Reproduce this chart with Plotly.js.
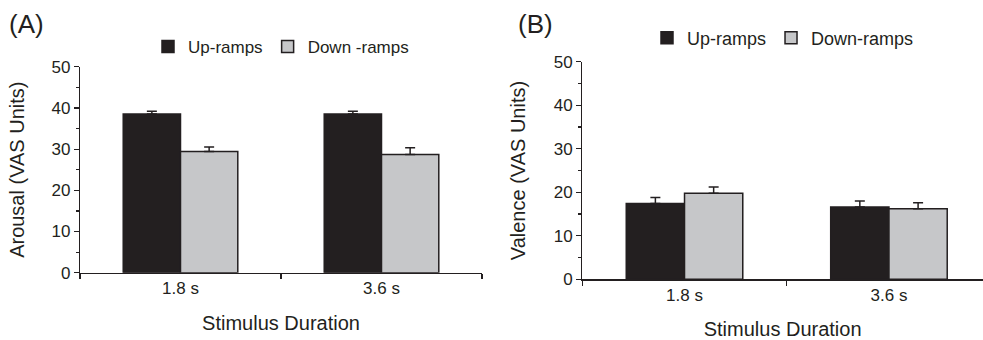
<!DOCTYPE html>
<html>
<head>
<meta charset="utf-8">
<script src="https://cdn.plot.ly/plotly-3.0.1.min.js"></script>
<style>html,body{margin:0;padding:0;background:#fff;}#chart{width:983px;height:340px;}</style>
</head>
<body>
<div id="chart"></div>
<script>
// ---- data ----
const categories = ["1.8 s", "3.6 s"];
const arousalUp = [38.5, 38.5];
const arousalUpErr = [0.7, 0.7];
const arousalDown = [29.4, 28.7];
const arousalDownErr = [1.1, 1.6];
const valenceUp = [17.4, 16.6];
const valenceUpErr = [1.4, 1.4];
const valenceDown = [19.8, 16.2];
const valenceDownErr = [1.4, 1.4];
const seriesNames = ["Up-ramps", "Down-ramps"];
const seriesNamesA = ["Up-ramps", "Down -ramps"];

const DARK = "#231f20";
const LIGHT = "#c6c7c9";
const FONT = "Liberation Sans, Arial, sans-serif";

function bar(x, y, err, name, color, xa, ya, legend) {
  return {
    type: "bar", x: x, y: y, name: name, xaxis: xa, yaxis: ya, legend: legend,
    marker: {color: color, line: {color: DARK, width: 1.5}},
    error_y: {type: "data", array: err, arrayminus: err.map(() => 0), symmetric: false,
              color: DARK, thickness: 1.5, width: 5},
    hoverinfo: "skip"
  };
}

const data = [
  bar(categories, arousalUp, arousalUpErr, seriesNamesA[0], DARK, "x", "y", "legend"),
  bar(categories, arousalDown, arousalDownErr, seriesNamesA[1], LIGHT, "x", "y", "legend"),
  bar(categories, valenceUp, valenceUpErr, seriesNames[0], DARK, "x2", "y2", "legend2"),
  bar(categories, valenceDown, valenceDownErr, seriesNames[1], LIGHT, "x2", "y2", "legend2")
];

const W = 983, H = 340;
function px(x) { return x / W; }
function py(y) { return 1 - y / H; }

const yCommon = {
  range: [0, 50], dtick: 10, tick0: 0, ticks: "outside", ticklen: 5, tickwidth: 1.2,
  tickcolor: DARK, showline: true, linecolor: DARK, linewidth: 1.2,
  showgrid: false, zeroline: false, fixedrange: true,
  tickfont: {family: FONT, size: 17, color: "#231f20"},
  minor: {dtick: 5, tick0: 0, ticks: "outside", ticklen: 3, tickwidth: 1.2, tickcolor: DARK, showgrid: false}
};
const xCommon = {
  type: "category", tickson: "boundaries", ticks: "outside", ticklen: 5, tickwidth: 1.2,
  tickcolor: DARK, showline: true, linecolor: DARK, linewidth: 1.2,
  showgrid: false, zeroline: false, fixedrange: true,
  tickfont: {family: FONT, size: 17, color: "#231f20"}
};

const layout = {
  width: W, height: H,
  margin: {l: 0, r: 0, t: 0, b: 0},
  paper_bgcolor: "#fff", plot_bgcolor: "#fff",
  font: {family: FONT, color: "#231f20"},
  barmode: "group", bargap: 0.43, bargroupgap: 0,
  xaxis: Object.assign({}, xCommon, {
    domain: [px(80), px(482)], range: [-0.5, 1.5], anchor: "y",
    title: {text: "Stimulus Duration", font: {family: FONT, size: 20, color: "#231f20"}, standoff: 18}
  }),
  yaxis: Object.assign({}, yCommon, {
    domain: [py(272.7), py(66.7)], anchor: "x",
    title: {text: "Arousal (VAS Units)", font: {family: FONT, size: 20, color: "#231f20"}, standoff: 21}
  }),
  xaxis2: Object.assign({}, xCommon, {
    domain: [px(582.3), 1], range: [-0.5, 1.46], anchor: "y2",
    title: {text: "Stimulus Duration", font: {family: FONT, size: 20, color: "#231f20"}, standoff: 20}
  }),
  yaxis2: Object.assign({}, yCommon, {
    domain: [py(279.3), py(61.7)], anchor: "x2",
    title: {text: "Valence (VAS Units)", font: {family: FONT, size: 20, color: "#231f20"}, standoff: 22}
  }),
  legend: {
    orientation: "h", x: px(148), xanchor: "left", y: py(47), yanchor: "middle",
    font: {family: FONT, size: 17, color: "#231f20"}, bgcolor: "rgba(0,0,0,0)",
    itemwidth: 30, itemclick: false, itemdoubleclick: false, traceorder: "normal"
  },
  legend2: {
    orientation: "h", x: px(647), xanchor: "left", y: py(38), yanchor: "middle",
    font: {family: FONT, size: 18, color: "#231f20"}, bgcolor: "rgba(0,0,0,0)",
    itemwidth: 30, itemclick: false, itemdoubleclick: false, traceorder: "normal"
  },
  annotations: [
    {text: "(A)", xref: "paper", yref: "paper", x: px(26.5), y: py(24), xanchor: "center", yanchor: "middle",
     showarrow: false, font: {family: FONT, size: 26, color: "#231f20"}},
    {text: "(B)", xref: "paper", yref: "paper", x: px(535), y: py(24), xanchor: "center", yanchor: "middle",
     showarrow: false, font: {family: FONT, size: 26, color: "#231f20"}}
  ],
  showlegend: true
};

Plotly.newPlot("chart", data, layout, {staticPlot: true, displayModeBar: false});
</script>
</body>
</html>
